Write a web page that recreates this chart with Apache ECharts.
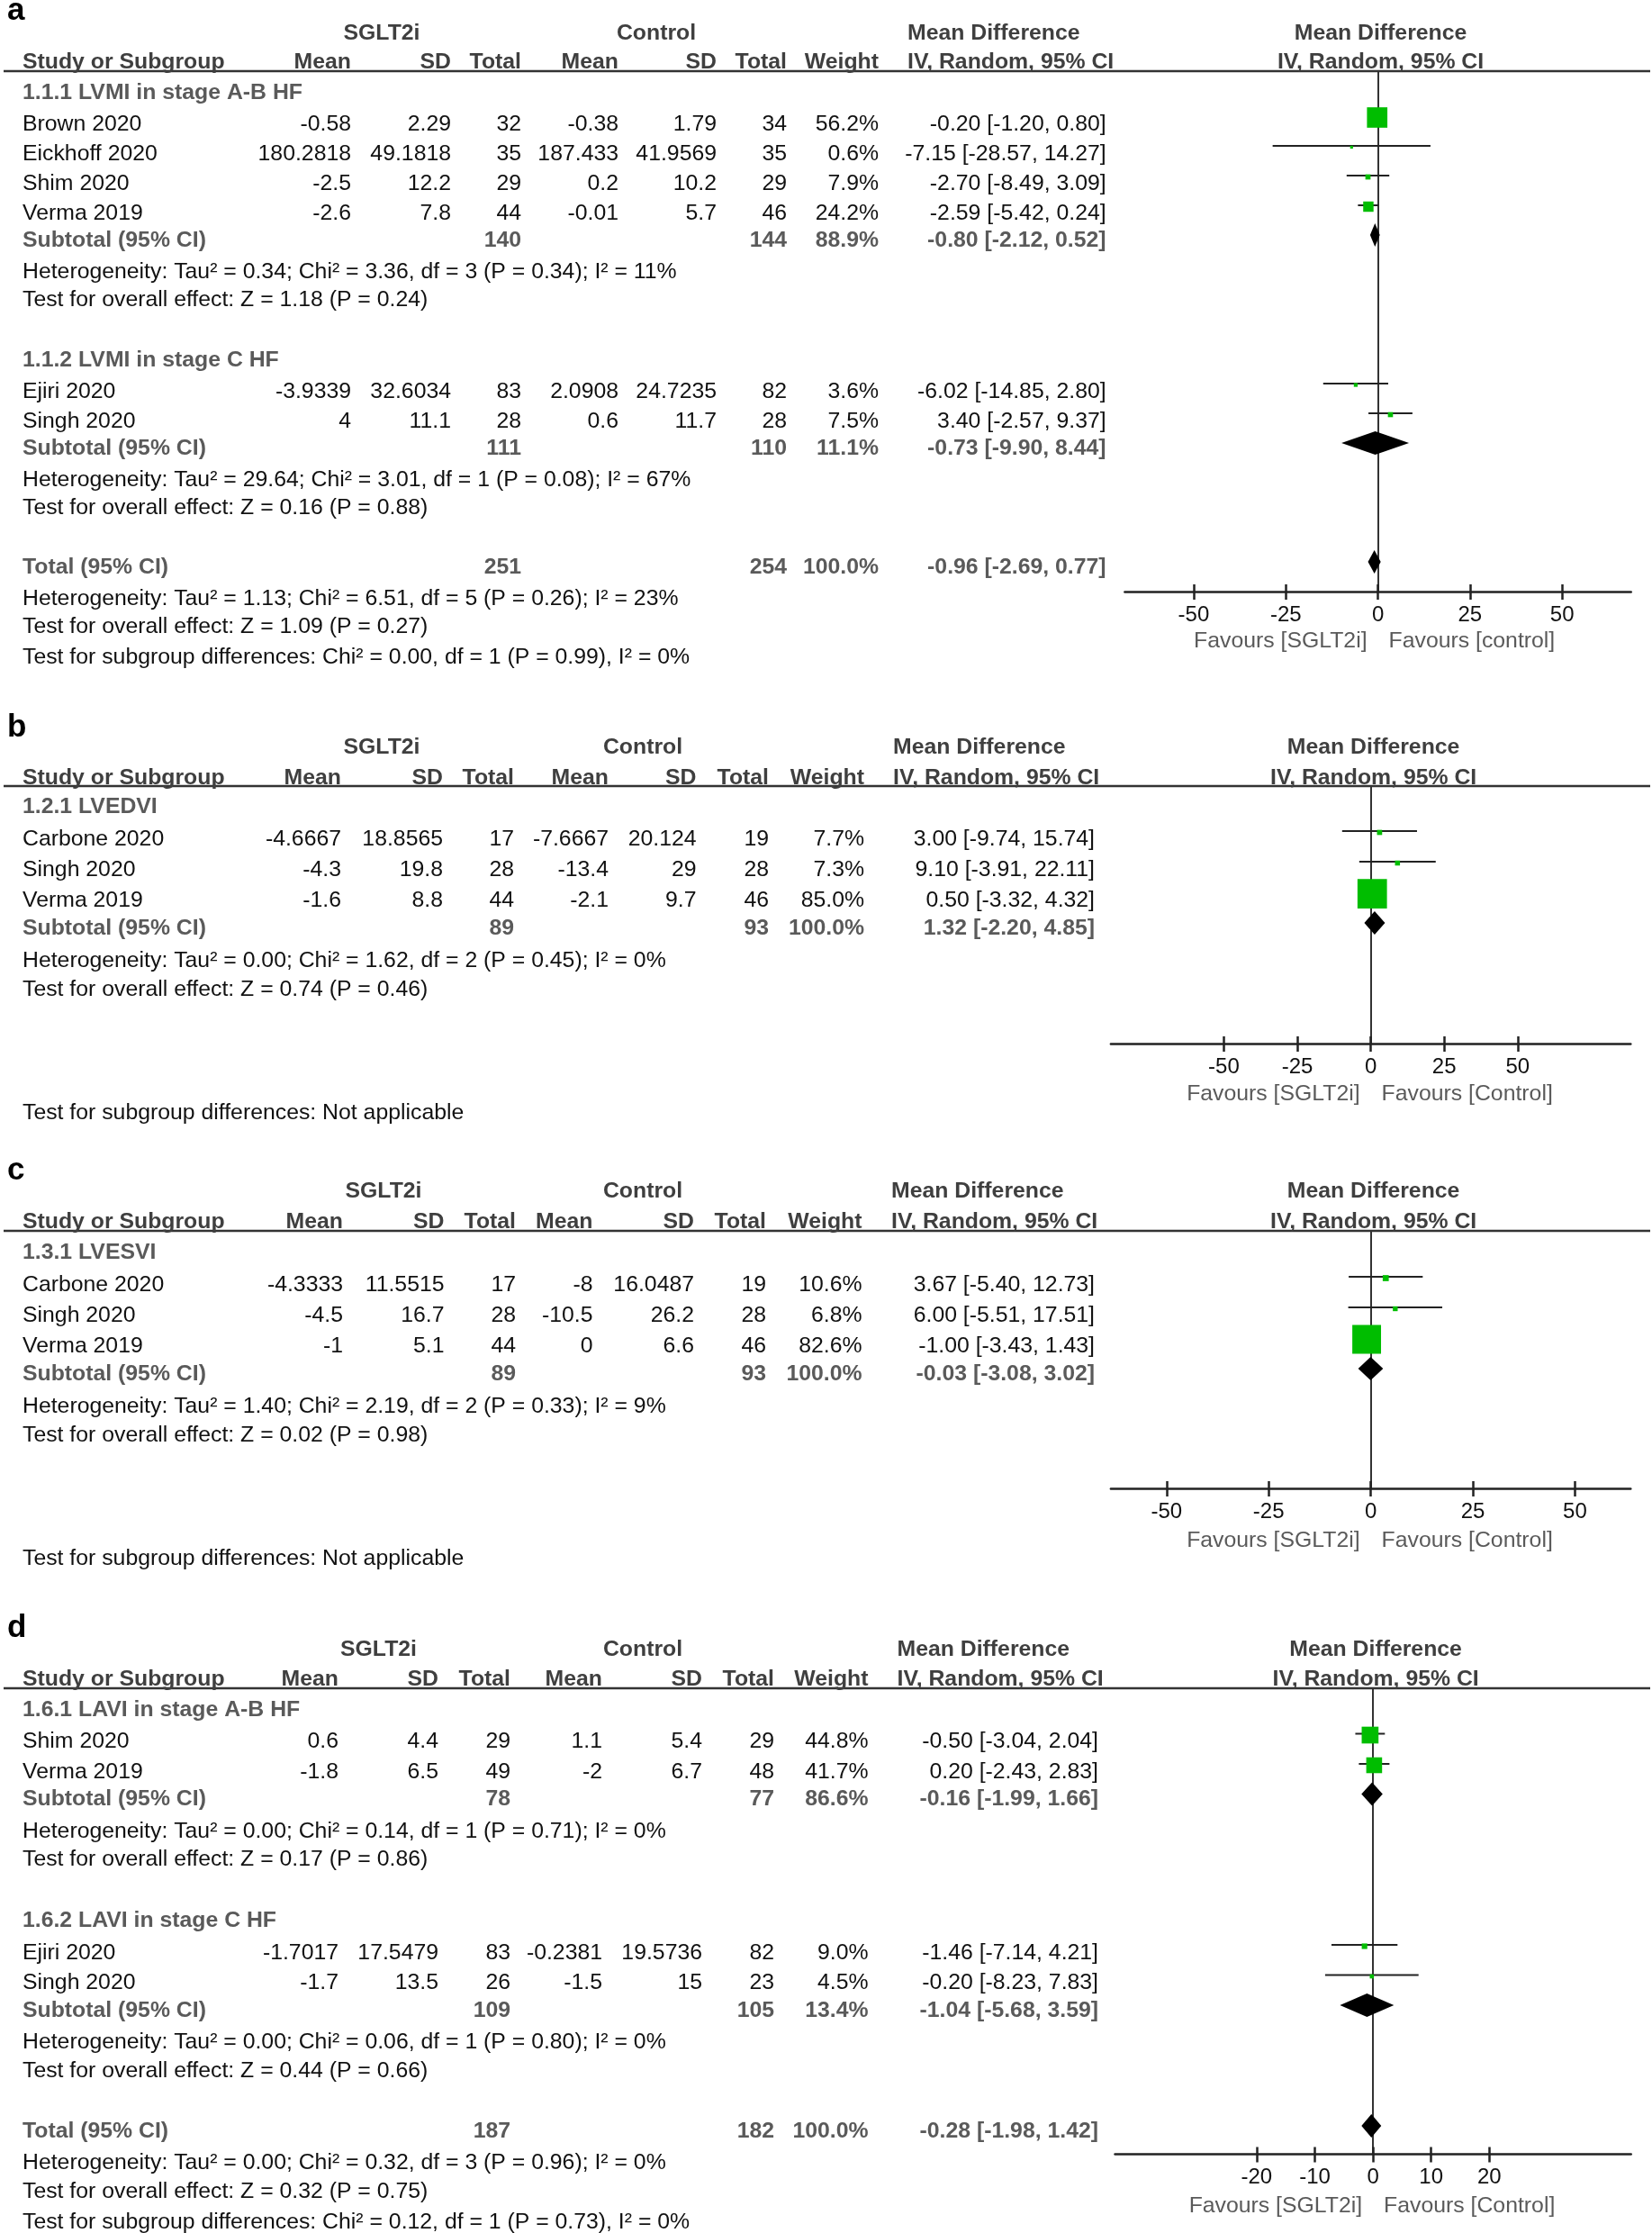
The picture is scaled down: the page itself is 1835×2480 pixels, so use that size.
<!DOCTYPE html>
<html>
<head>
<meta charset="utf-8">
<script src="https://cdn.jsdelivr.net/npm/echarts@6/dist/echarts.min.js"></script>
<style>html,body{margin:0;padding:0;background:#fff}#c{width:1835px;height:2480px}</style>
</head>
<body>
<div id="c"></div>
<script>
// ================= DATA =================
// ---- Panel a : LVMI ----
const aGroups = ['1.1.1 LVMI in stage A-B HF', '1.1.2 LVMI in stage C HF'];
const aStudy = ['Brown 2020', 'Eickhoff 2020', 'Shim 2020', 'Verma 2019', 'Ejiri 2020', 'Singh 2020'];
const aStudyGroup = [0, 0, 0, 0, 1, 1];
const aExpMean = [-0.58, 180.2818, -2.5, -2.6, -3.9339, 4];
const aExpSD = [2.29, 49.1818, 12.2, 7.8, 32.6034, 11.1];
const aExpN = [32, 35, 29, 44, 83, 28];
const aCtlMean = [-0.38, 187.433, 0.2, -0.01, 2.0908, 0.6];
const aCtlSD = [1.79, 41.9569, 10.2, 5.7, 24.7235, 11.7];
const aCtlN = [34, 35, 29, 46, 82, 28];
const aWeight = [56.2, 0.6, 7.9, 24.2, 3.6, 7.5];
const aMD = [-0.20, -7.15, -2.70, -2.59, -6.02, 3.40];
const aLow = [-1.20, -28.57, -8.49, -5.42, -14.85, -2.57];
const aHigh = [0.80, 14.27, 3.09, 0.24, 2.80, 9.37];
const aSubExpN = [140, 111];
const aSubCtlN = [144, 110];
const aSubWeight = [88.9, 11.1];
const aSubMD = [-0.80, -0.73];
const aSubLow = [-2.12, -9.90];
const aSubHigh = [0.52, 8.44];
const aSubHet = ['Heterogeneity: Tau² = 0.34; Chi² = 3.36, df = 3 (P = 0.34); I² = 11%',
                 'Heterogeneity: Tau² = 29.64; Chi² = 3.01, df = 1 (P = 0.08); I² = 67%'];
const aSubTest = ['Test for overall effect: Z = 1.18 (P = 0.24)', 'Test for overall effect: Z = 0.16 (P = 0.88)'];
const aTotalN = [251, 254];
const aTotalWeight = 100.0;
const aTotalEffect = [-0.96, -2.69, 0.77];
const aTotalHet = 'Heterogeneity: Tau² = 1.13; Chi² = 6.51, df = 5 (P = 0.26); I² = 23%';
const aTotalTest = 'Test for overall effect: Z = 1.09 (P = 0.27)';
const aSubgroupDiff = 'Test for subgroup differences: Chi² = 0.00, df = 1 (P = 0.99), I² = 0%';
const aTicks = [-50, -25, 0, 25, 50];
const aFavours = ['Favours [SGLT2i]', 'Favours [control]'];

// ---- Panel b : LVEDVI ----
const bGroups = ['1.2.1 LVEDVI'];
const bStudy = ['Carbone 2020', 'Singh 2020', 'Verma 2019'];
const bStudyGroup = [0, 0, 0];
const bExpMean = [-4.6667, -4.3, -1.6];
const bExpSD = [18.8565, 19.8, 8.8];
const bExpN = [17, 28, 44];
const bCtlMean = [-7.6667, -13.4, -2.1];
const bCtlSD = [20.124, 29, 9.7];
const bCtlN = [19, 28, 46];
const bWeight = [7.7, 7.3, 85.0];
const bMD = [3.00, 9.10, 0.50];
const bLow = [-9.74, -3.91, -3.32];
const bHigh = [15.74, 22.11, 4.32];
const bSubExpN = [89];
const bSubCtlN = [93];
const bSubWeight = [100.0];
const bSubMD = [1.32];
const bSubLow = [-2.20];
const bSubHigh = [4.85];
const bSubHet = ['Heterogeneity: Tau² = 0.00; Chi² = 1.62, df = 2 (P = 0.45); I² = 0%'];
const bSubTest = ['Test for overall effect: Z = 0.74 (P = 0.46)'];
const bSubgroupDiff = 'Test for subgroup differences: Not applicable';
const bTicks = [-50, -25, 0, 25, 50];
const bFavours = ['Favours [SGLT2i]', 'Favours [Control]'];

// ---- Panel c : LVESVI ----
const cGroups = ['1.3.1 LVESVI'];
const cStudy = ['Carbone 2020', 'Singh 2020', 'Verma 2019'];
const cStudyGroup = [0, 0, 0];
const cExpMean = [-4.3333, -4.5, -1];
const cExpSD = [11.5515, 16.7, 5.1];
const cExpN = [17, 28, 44];
const cCtlMean = [-8, -10.5, 0];
const cCtlSD = [16.0487, 26.2, 6.6];
const cCtlN = [19, 28, 46];
const cWeight = [10.6, 6.8, 82.6];
const cMD = [3.67, 6.00, -1.00];
const cLow = [-5.40, -5.51, -3.43];
const cHigh = [12.73, 17.51, 1.43];
const cSubExpN = [89];
const cSubCtlN = [93];
const cSubWeight = [100.0];
const cSubMD = [-0.03];
const cSubLow = [-3.08];
const cSubHigh = [3.02];
const cSubHet = ['Heterogeneity: Tau² = 1.40; Chi² = 2.19, df = 2 (P = 0.33); I² = 9%'];
const cSubTest = ['Test for overall effect: Z = 0.02 (P = 0.98)'];
const cSubgroupDiff = 'Test for subgroup differences: Not applicable';
const cTicks = [-50, -25, 0, 25, 50];
const cFavours = ['Favours [SGLT2i]', 'Favours [Control]'];

// ---- Panel d : LAVI ----
const dGroups = ['1.6.1 LAVI in stage A-B HF', '1.6.2 LAVI in stage C HF'];
const dStudy = ['Shim 2020', 'Verma 2019', 'Ejiri 2020', 'Singh 2020'];
const dStudyGroup = [0, 0, 1, 1];
const dExpMean = [0.6, -1.8, -1.7017, -1.7];
const dExpSD = [4.4, 6.5, 17.5479, 13.5];
const dExpN = [29, 49, 83, 26];
const dCtlMean = [1.1, -2, -0.2381, -1.5];
const dCtlSD = [5.4, 6.7, 19.5736, 15];
const dCtlN = [29, 48, 82, 23];
const dWeight = [44.8, 41.7, 9.0, 4.5];
const dMD = [-0.50, 0.20, -1.46, -0.20];
const dLow = [-3.04, -2.43, -7.14, -8.23];
const dHigh = [2.04, 2.83, 4.21, 7.83];
const dSubExpN = [78, 109];
const dSubCtlN = [77, 105];
const dSubWeight = [86.6, 13.4];
const dSubMD = [-0.16, -1.04];
const dSubLow = [-1.99, -5.68];
const dSubHigh = [1.66, 3.59];
const dSubHet = ['Heterogeneity: Tau² = 0.00; Chi² = 0.14, df = 1 (P = 0.71); I² = 0%',
                 'Heterogeneity: Tau² = 0.00; Chi² = 0.06, df = 1 (P = 0.80); I² = 0%'];
const dSubTest = ['Test for overall effect: Z = 0.17 (P = 0.86)', 'Test for overall effect: Z = 0.44 (P = 0.66)'];
const dTotalN = [187, 182];
const dTotalWeight = 100.0;
const dTotalEffect = [-0.28, -1.98, 1.42];
const dTotalHet = 'Heterogeneity: Tau² = 0.00; Chi² = 0.32, df = 3 (P = 0.96); I² = 0%';
const dTotalTest = 'Test for overall effect: Z = 0.32 (P = 0.75)';
const dSubgroupDiff = 'Test for subgroup differences: Chi² = 0.12, df = 1 (P = 0.73), I² = 0%';
const dTicks = [-20, -10, 0, 10, 20];
const dFavours = ['Favours [SGLT2i]', 'Favours [Control]'];

// ================= LAYOUT (positions / sizes) =================
const LAYOUT = {
  a: { letterY: 12, h1: 37, h2: 69, line: 79, start: 103, pitch: 33, axisY: 657, xL: 1249.4, xR: 1811.7, range: 68.7, favY: 712,
       cols: { mean: 390, sd: 501, n: 579, cmean: 687, csd: 796, cn: 874, w: 976, ci: 1228.6, sg: 424, ctl: 729, mdL: 1008 } },
  b: { letterY: 808, h1: 830, h2: 864, line: 873, start: 896, pitch: 34, axisY: 1159, xL: 1233.9, xR: 1811.3, range: 88.45, favY: 1215,
       cols: { mean: 379, sd: 492, n: 571, cmean: 676, csd: 773.5, cn: 854, w: 960, ci: 1216, sg: 424, ctl: 714, mdL: 992 } },
  c: { letterY: 1300, h1: 1323, h2: 1357, line: 1367, start: 1391, pitch: 34, axisY: 1653, xL: 1233.9, xR: 1811.3, range: 63.65, favY: 1711,
       cols: { mean: 381, sd: 493.5, n: 573, cmean: 658.5, csd: 771, cn: 851, w: 957.5, ci: 1216, sg: 426, ctl: 714, mdL: 990 } },
  d: { letterY: 1808, h1: 1832, h2: 1865, line: 1875, start: 1899, pitch: 33.5, axisY: 2392.6, xL: 1238.5, xR: 1811.7, range: 44.35, favY: 2450,
       cols: { mean: 376, sd: 487, n: 567, cmean: 669, csd: 780, cn: 860, w: 964.5, ci: 1220, sg: 420.5, ctl: 714, mdL: 996.5 } }
};
const OFF = { study: 2, subtotal: -1, het: 1, test: -1, total: -1, group: 0, note: 0 };
const MARK_SHIFT = 7;
const FF = "'Liberation Sans', Arial, Helvetica, sans-serif";
const FS = 24.8;
const C_TXT = '#111111', C_HDR = '#3f3f3f', C_GRY = '#5a5a5a', C_GREEN = '#00bd00', C_LINE = '#222222';

// ================= PANELS (built from the arrays) =================
const panels = [
  { id: 'a', groups: aGroups, study: aStudy, studyGroup: aStudyGroup, expMean: aExpMean, expSD: aExpSD, expN: aExpN,
    ctlMean: aCtlMean, ctlSD: aCtlSD, ctlN: aCtlN, weight: aWeight, md: aMD, low: aLow, high: aHigh,
    subExpN: aSubExpN, subCtlN: aSubCtlN, subWeight: aSubWeight, subMD: aSubMD, subLow: aSubLow, subHigh: aSubHigh,
    subHet: aSubHet, subTest: aSubTest, total: true, totalN: aTotalN, totalWeight: aTotalWeight, totalEffect: aTotalEffect,
    totalHet: aTotalHet, totalTest: aTotalTest, subgroupDiff: aSubgroupDiff, ticks: aTicks, favours: aFavours },
  { id: 'b', groups: bGroups, study: bStudy, studyGroup: bStudyGroup, expMean: bExpMean, expSD: bExpSD, expN: bExpN,
    ctlMean: bCtlMean, ctlSD: bCtlSD, ctlN: bCtlN, weight: bWeight, md: bMD, low: bLow, high: bHigh,
    subExpN: bSubExpN, subCtlN: bSubCtlN, subWeight: bSubWeight, subMD: bSubMD, subLow: bSubLow, subHigh: bSubHigh,
    subHet: bSubHet, subTest: bSubTest, total: false, subgroupDiff: bSubgroupDiff, ticks: bTicks, favours: bFavours },
  { id: 'c', groups: cGroups, study: cStudy, studyGroup: cStudyGroup, expMean: cExpMean, expSD: cExpSD, expN: cExpN,
    ctlMean: cCtlMean, ctlSD: cCtlSD, ctlN: cCtlN, weight: cWeight, md: cMD, low: cLow, high: cHigh,
    subExpN: cSubExpN, subCtlN: cSubCtlN, subWeight: cSubWeight, subMD: cSubMD, subLow: cSubLow, subHigh: cSubHigh,
    subHet: cSubHet, subTest: cSubTest, total: false, subgroupDiff: cSubgroupDiff, ticks: cTicks, favours: cFavours },
  { id: 'd', groups: dGroups, study: dStudy, studyGroup: dStudyGroup, expMean: dExpMean, expSD: dExpSD, expN: dExpN,
    ctlMean: dCtlMean, ctlSD: dCtlSD, ctlN: dCtlN, weight: dWeight, md: dMD, low: dLow, high: dHigh,
    subExpN: dSubExpN, subCtlN: dSubCtlN, subWeight: dSubWeight, subMD: dSubMD, subLow: dSubLow, subHigh: dSubHigh,
    subHet: dSubHet, subTest: dSubTest, total: true, totalN: dTotalN, totalWeight: dTotalWeight, totalEffect: dTotalEffect,
    totalHet: dTotalHet, totalTest: dTotalTest, subgroupDiff: dSubgroupDiff, ticks: dTicks, favours: dFavours }
];

function buildRows(P) {
  const rows = [];
  P.groups.forEach((g, gi) => {
    rows.push({ type: 'group', text: g });
    P.study.forEach((s, si) => { if (P.studyGroup[si] === gi) rows.push({ type: 'study', si }); });
    rows.push({ type: 'subtotal', gi });
    rows.push({ type: 'het', text: P.subHet[gi] });
    rows.push({ type: 'test', text: P.subTest[gi] });
    if (gi < P.groups.length - 1 || P.total) rows.push({ type: 'blank' });
  });
  if (P.total) {
    rows.push({ type: 'total' });
    rows.push({ type: 'het', text: P.totalHet });
    rows.push({ type: 'test', text: P.totalTest });
  } else {
    rows.push({ type: 'blank' }); rows.push({ type: 'blank' }); rows.push({ type: 'blank' });
  }
  rows.push({ type: 'note', text: P.subgroupDiff });
  return rows;
}

const grids = [], xAxes = [], yAxes = [], series = [], graphics = [];

function txt(x, y, text, o) {
  o = o || {};
  const al = o.align || 'left';
  graphics.push({
    type: 'text', x: x, y: y, silent: true, z: 10,
    style: { text: String(text), fill: o.fill || C_TXT, fontSize: o.size || FS, fontFamily: FF,
             fontWeight: o.bold ? 'bold' : 'normal', align: al, verticalAlign: 'middle',
             textAlign: al, textVerticalAlign: 'middle' }
  });
}
function hline(x1, x2, y, w, c) {
  graphics.push({ type: 'line', silent: true, z: 5, shape: { x1: x1, y1: y, x2: x2, y2: y }, style: { stroke: c, lineWidth: w } });
}
const f2 = v => v.toFixed(2);
const ciText = (m, l, h) => f2(m) + ' [' + f2(l) + ', ' + f2(h) + ']';
const pct = w => w.toFixed(1) + '%';

panels.forEach((P, k) => {
  const L = LAYOUT[P.id], c = L.cols;
  const zeroX = (L.xL + L.xR) / 2;
  const rows = buildRows(P);
  const rowY = (i, t) => L.start + L.pitch * i + (OFF[t] || 0);

  // panel letter
  txt(8, L.letterY, P.id, { bold: true, size: 35, fill: '#000' });
  // header row 1
  txt(c.sg, L.h1, 'SGLT2i', { bold: true, fill: C_HDR, align: 'center' });
  txt(c.ctl, L.h1, 'Control', { bold: true, fill: C_HDR, align: 'center' });
  txt(c.mdL, L.h1, 'Mean Difference', { bold: true, fill: C_HDR });
  txt(zeroX + 3, L.h1, 'Mean Difference', { bold: true, fill: C_HDR, align: 'center' });
  // header row 2
  txt(25, L.h2, 'Study or Subgroup', { bold: true, fill: C_HDR });
  txt(c.mean, L.h2, 'Mean', { bold: true, fill: C_HDR, align: 'right' });
  txt(c.sd, L.h2, 'SD', { bold: true, fill: C_HDR, align: 'right' });
  txt(c.n, L.h2, 'Total', { bold: true, fill: C_HDR, align: 'right' });
  txt(c.cmean, L.h2, 'Mean', { bold: true, fill: C_HDR, align: 'right' });
  txt(c.csd, L.h2, 'SD', { bold: true, fill: C_HDR, align: 'right' });
  txt(c.cn, L.h2, 'Total', { bold: true, fill: C_HDR, align: 'right' });
  txt(c.w, L.h2, 'Weight', { bold: true, fill: C_HDR, align: 'right' });
  txt(c.mdL, L.h2, 'IV, Random, 95% CI', { bold: true, fill: C_HDR });
  txt(zeroX + 3, L.h2, 'IV, Random, 95% CI', { bold: true, fill: C_HDR, align: 'center' });
  hline(4, 1833, L.line, 2.5, '#333');

  const studyData = [], diamondData = [];
  rows.forEach((r, i) => {
    const y = rowY(i, r.type);
    if (r.type === 'group') {
      txt(25, y, r.text, { bold: true, fill: C_GRY });
    } else if (r.type === 'study') {
      const s = r.si;
      txt(25, y, P.study[s]);
      txt(c.mean, y, P.expMean[s], { align: 'right' });
      txt(c.sd, y, P.expSD[s], { align: 'right' });
      txt(c.n, y, P.expN[s], { align: 'right' });
      txt(c.cmean, y, P.ctlMean[s], { align: 'right' });
      txt(c.csd, y, P.ctlSD[s], { align: 'right' });
      txt(c.cn, y, P.ctlN[s], { align: 'right' });
      txt(c.w, y, pct(P.weight[s]), { align: 'right' });
      txt(c.ci, y, ciText(P.md[s], P.low[s], P.high[s]), { align: 'right' });
      studyData.push([P.md[s], P.low[s], P.high[s], i, P.weight[s]]);
    } else if (r.type === 'subtotal') {
      const g = r.gi, o = { bold: true, fill: C_GRY, align: 'right' };
      txt(25, y, 'Subtotal (95% CI)', { bold: true, fill: C_GRY });
      txt(c.n, y, P.subExpN[g], o);
      txt(c.cn, y, P.subCtlN[g], o);
      txt(c.w, y, pct(P.subWeight[g]), o);
      txt(c.ci, y, ciText(P.subMD[g], P.subLow[g], P.subHigh[g]), o);
      diamondData.push([P.subMD[g], P.subLow[g], P.subHigh[g], i]);
    } else if (r.type === 'total') {
      const o = { bold: true, fill: C_GRY, align: 'right' };
      txt(25, y, 'Total (95% CI)', { bold: true, fill: C_GRY });
      txt(c.n, y, P.totalN[0], o);
      txt(c.cn, y, P.totalN[1], o);
      txt(c.w, y, pct(P.totalWeight), o);
      txt(c.ci, y, ciText(P.totalEffect[0], P.totalEffect[1], P.totalEffect[2]), o);
      diamondData.push([P.totalEffect[0], P.totalEffect[1], P.totalEffect[2], i]);
    } else if (r.type === 'het' || r.type === 'test' || r.type === 'note') {
      txt(25, y, r.text);
    }
  });

  // favours labels
  txt(zeroX - 12, L.favY, P.favours[0], { fill: C_GRY, align: 'right' });
  txt(zeroX + 12, L.favY, P.favours[1], { fill: C_GRY, align: 'left' });

  // forest plot coordinate system
  grids.push({ left: L.xL, top: L.line, width: L.xR - L.xL, height: L.axisY - L.line, containLabel: false, outerBoundsMode: 'none' });
  const xi = xAxes.length;
  xAxes.push({
    gridIndex: k, type: 'value', min: -L.range, max: L.range, position: 'bottom',
    axisLine: { show: true, onZero: false, lineStyle: { color: C_LINE, width: 2.5 } },
    axisTick: { show: true, inside: false, length: 9, customValues: P.ticks, lineStyle: { color: C_LINE, width: 2.5 } },
    axisLabel: { show: true, customValues: P.ticks, margin: 14, fontSize: 24, color: '#111', fontFamily: FF },
    splitLine: { show: false }
  });
  xAxes.push({
    gridIndex: k, type: 'value', min: -L.range, max: L.range, position: 'bottom',
    axisLine: { show: false, onZero: false },
    axisTick: { show: true, inside: true, length: 8, customValues: P.ticks, lineStyle: { color: C_LINE, width: 2.5 } },
    axisLabel: { show: false }, splitLine: { show: false }
  });
  const yMin = (L.line - (L.start - MARK_SHIFT)) / L.pitch;
  const yMax = (L.axisY - (L.start - MARK_SHIFT)) / L.pitch;
  yAxes.push({
    gridIndex: k, type: 'value', inverse: true, min: yMin, max: yMax,
    axisLine: { show: true, onZero: true, onZeroAxisIndex: xi, lineStyle: { color: '#333', width: 2 } },
    axisTick: { show: false }, axisLabel: { show: false }, splitLine: { show: false }
  });

  series.push({
    type: 'custom', name: P.id + '-studies', xAxisIndex: xi, yAxisIndex: k, clip: false, silent: true,
    encode: { x: [0, 1, 2], y: 3 },
    data: studyData,
    renderItem: function (params, api) {
      const md = api.value(0), lo = api.value(1), hi = api.value(2), r = api.value(3), w = api.value(4);
      const pL = api.coord([lo, r]), pR = api.coord([hi, r]), pC = api.coord([md, r]);
      const s = 3 + 0.35 * w;   // marker side grows with study weight
      return { type: 'group', children: [
        { type: 'line', shape: { x1: pL[0], y1: pL[1], x2: pR[0], y2: pR[1] }, style: { stroke: C_LINE, lineWidth: 2 } },
        { type: 'rect', shape: { x: pC[0] - s / 2, y: pC[1] - s / 2 + 1.5, width: s, height: s }, style: { fill: C_GREEN } }
      ] };
    }
  });
  series.push({
    type: 'custom', name: P.id + '-pooled', xAxisIndex: xi, yAxisIndex: k, clip: false, silent: true,
    encode: { x: [0, 1, 2], y: 3 },
    data: diamondData,
    renderItem: function (params, api) {
      const md = api.value(0), lo = api.value(1), hi = api.value(2), r = api.value(3);
      const pL = api.coord([lo, r]), pR = api.coord([hi, r]), pC = api.coord([md, r]);
      const h = 13;
      return { type: 'polygon', shape: { points: [[pL[0], pL[1]], [pC[0], pC[1] - h], [pR[0], pR[1]], [pC[0], pC[1] + h]] },
               style: { fill: '#000' } };
    }
  });
});

const chart = echarts.init(document.getElementById('c'), null, { renderer: 'canvas', width: 1835, height: 2480 });
chart.setOption({
  backgroundColor: '#ffffff',
  animation: false,
  grid: grids,
  xAxis: xAxes,
  yAxis: yAxes,
  series: series,
  graphic: { elements: graphics }
});
</script>
</body>
</html>
